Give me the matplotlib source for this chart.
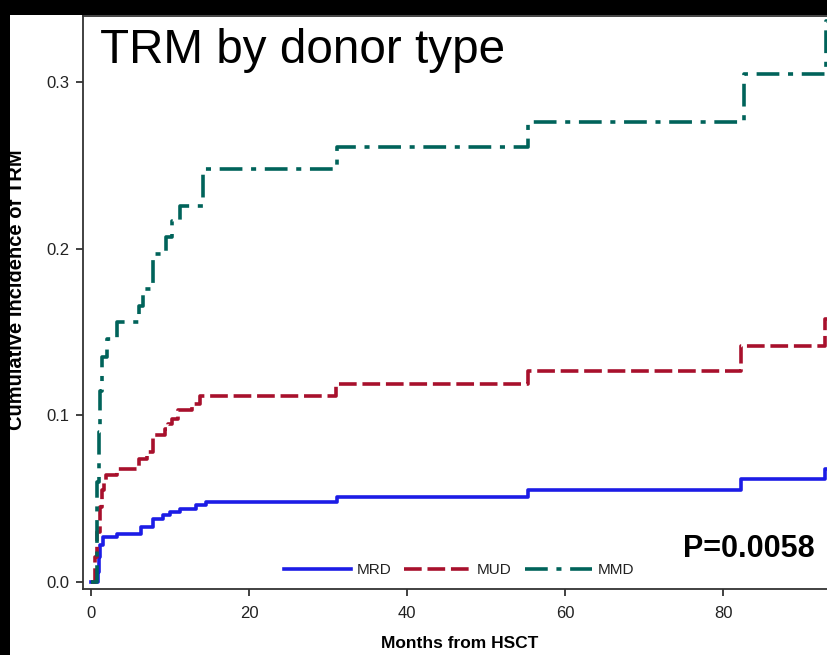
import numpy as np
import matplotlib
matplotlib.use("Agg")
import matplotlib.pyplot as plt
from matplotlib.patches import Rectangle

# ---- data (months, cumulative incidence) ----
mrd_months = [0, 0.9, 1.0, 1.2, 1.5, 3.3, 6.3, 7.8, 9.1, 10.0, 11.3, 13.3, 14.6, 31.1, 55.3, 82.3, 92.9]
mrd_values = [0, 0.006, 0.015, 0.022, 0.027, 0.029, 0.033, 0.038, 0.040, 0.042, 0.044, 0.046, 0.048,
              0.051, 0.055, 0.062, 0.068]

mud_months = [0, 0.5, 0.8, 1.1, 1.4, 1.6, 1.9, 3.3, 6.1, 7.1, 7.9, 9.4, 9.7, 10.3, 11.0, 12.8, 13.8,
              31.0, 55.3, 82.3, 92.9]
mud_values = [0, 0.015, 0.030, 0.045, 0.055, 0.060, 0.064, 0.068, 0.074, 0.078, 0.088, 0.092, 0.095,
              0.098, 0.103, 0.107, 0.112, 0.119, 0.127, 0.142, 0.158]

mmd_months = [0, 0.7, 0.8, 1.0, 1.2, 1.4, 2.0, 3.3, 6.1, 6.6, 7.8, 9.5, 10.3, 11.3, 14.2, 31.1, 55.3,
              82.7, 93.0]
mmd_values = [0, 0.030, 0.060, 0.090, 0.115, 0.135, 0.146, 0.156, 0.166, 0.176, 0.197, 0.207, 0.217,
              0.226, 0.248, 0.261, 0.276, 0.305, 0.337]

groups = ["MRD", "MUD", "MMD"]
x_ticks = [0, 20, 40, 60, 80]
y_ticks = [0.0, 0.1, 0.2, 0.3]

plt.rcParams['font.family'] = ['Liberation Sans', 'DejaVu Sans']

W, H = 827, 655
fig = plt.figure(figsize=(W / 100, H / 100), dpi=100)
fig.patch.set_facecolor('black')
fig.patches.append(Rectangle((10 / W, 0), 1, (H - 15) / H, transform=fig.transFigure,
                             facecolor='white', edgecolor='none', zorder=-10))

ax = fig.add_axes([83 / W, 1 - 589 / H, 1 - 83 / W, (589 - 16) / H])
ax.set_facecolor('white')

x_end = 94.0
styles = [
    dict(color='#1c1ce6', linestyle='-'),
    dict(color='#a8102c', linestyle=(0, (4.9, 1.6))),
    dict(color='#00635a', linestyle=(0, (6.3, 2.4, 1.4, 2.4))),
]
series = [(mrd_months, mrd_values), (mud_months, mud_values), (mmd_months, mmd_values)]
for (m, v), name, st in zip(series, groups, styles):
    m = np.append(m, x_end)
    v = np.append(v, v[-1])
    ax.step(m, v, where='post', linewidth=2.6, label=name, **st)

ax.set_xlim(-1.01, 93.16)
ax.set_ylim(-0.0042, 0.3399)
ax.set_xticks(x_ticks)
ax.set_yticks(y_ticks)
ax.set_yticklabels([f"{t:.1f}" for t in y_ticks])
ax.spines['right'].set_visible(False)
for s in ['left', 'bottom', 'top']:
    ax.spines[s].set_color('#333333')
    ax.spines[s].set_linewidth(1.3)
ax.tick_params(axis='x', direction='out', length=5, width=1.3, color='#333333',
               labelsize=12, labelcolor='#222222', pad=7)
ax.tick_params(axis='y', direction='out', length=5, width=1.3, color='#333333',
               labelsize=12, labelcolor='#222222', pad=5)

leg = ax.legend(loc='center', bbox_to_anchor=(459 / W, 1 - 570 / H), bbox_transform=fig.transFigure,
                ncol=3, frameon=False, fontsize=11, handlelength=4.4, handletextpad=0.35,
                columnspacing=0.85, borderpad=0)
for t in leg.get_texts():
    t.set_color('#222222')

fig.text(100 / W, 1 - 63 / H, "TRM by donor type", fontsize=34.3,
         ha='left', va='baseline', color='black')
fig.text(815 / W, 1 - 557 / H, "P=0.0058", fontsize=22, fontweight='bold',
         ha='right', va='baseline', color='black')

fig.text(17 / W, 1 - 290 / H, "Cumulative Incidence of TRM", rotation=90, fontsize=14.5,
         fontweight='bold', ha='center', va='center', color='black')
fig.text(460 / W, 1 - 644 / H, "Months from HSCT", fontsize=12.5, fontweight='bold',
         ha='center', va='center', color='black')

fig.savefig("out.png", dpi=100, facecolor=fig.get_facecolor())
